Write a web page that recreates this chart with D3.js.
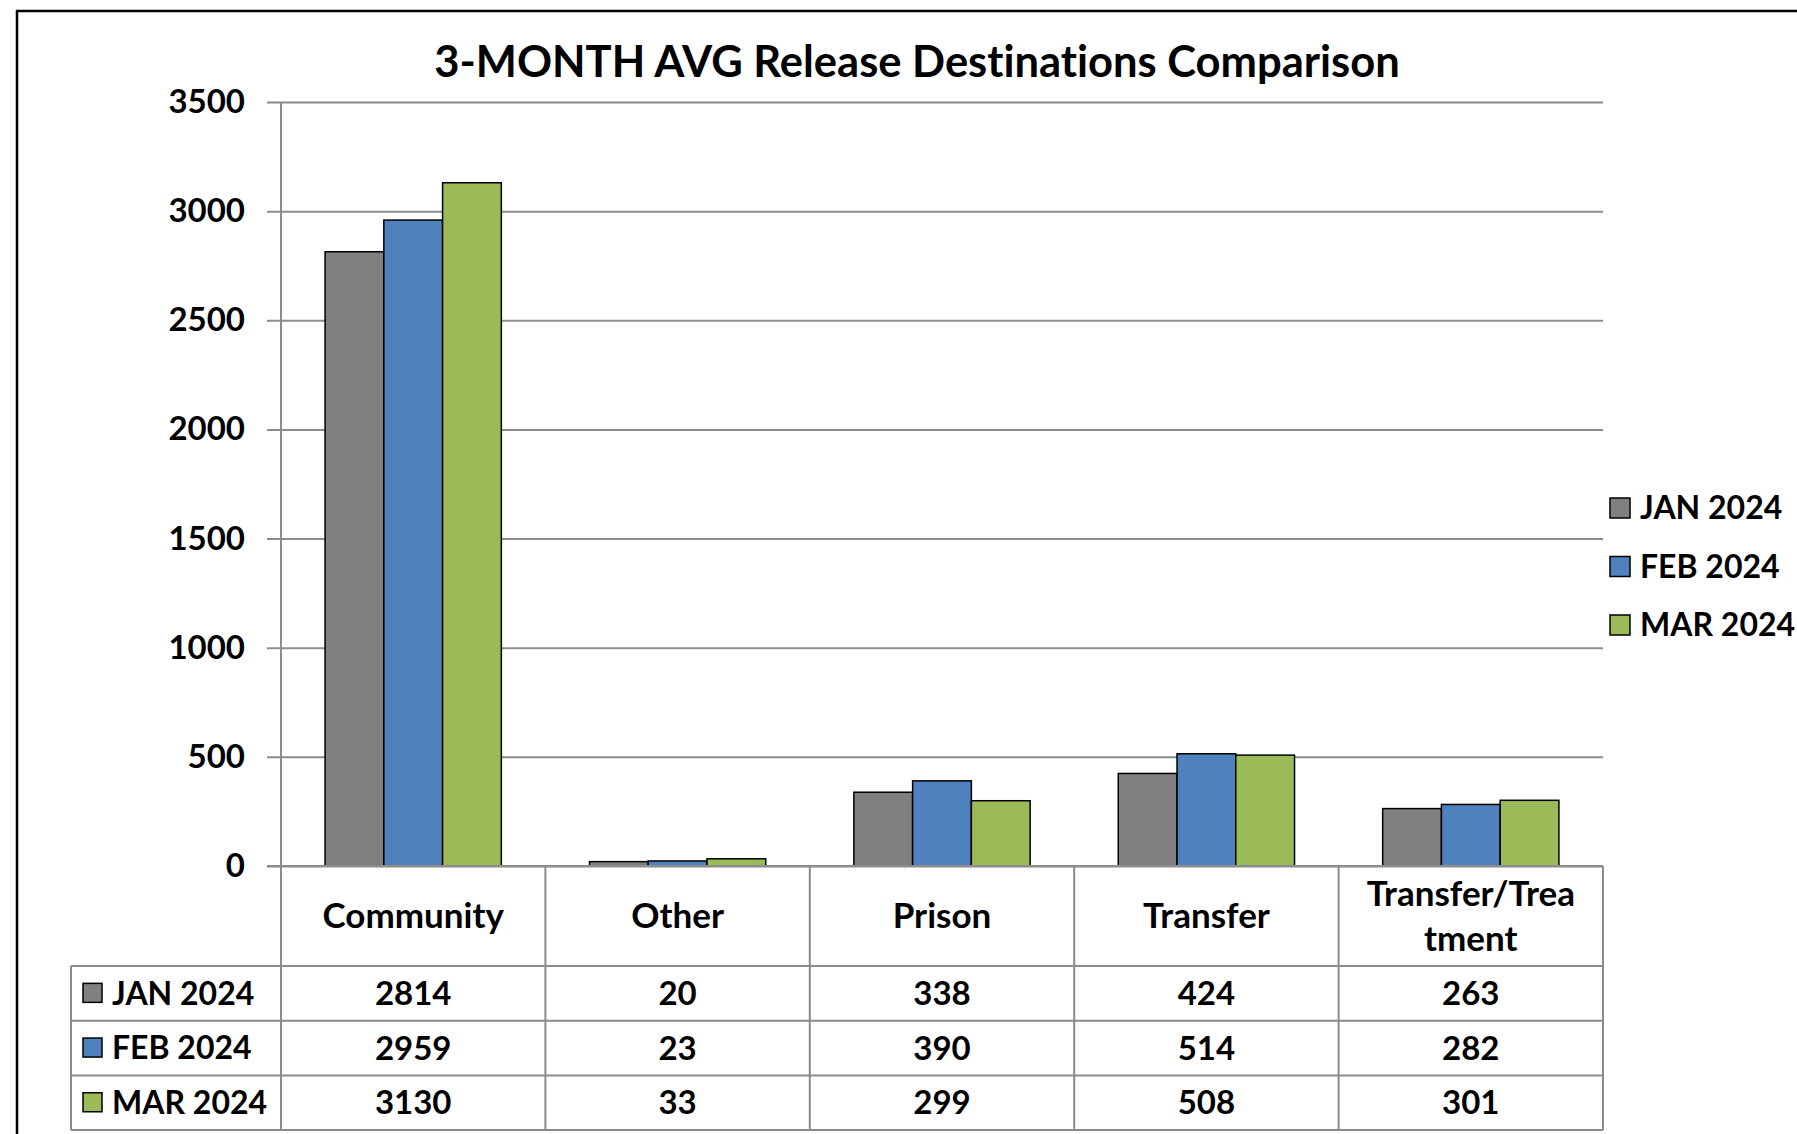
<!DOCTYPE html>
<html>
<head>
<meta charset="utf-8">
<script src="https://cdn.jsdelivr.net/npm/d3@7"></script>
<style>
  body { margin: 0; background: #fff; }
  svg { display: block; font-family: Lato, "Open Sans", sans-serif; font-weight: bold; font-variant-ligatures: none; }
</style>
</head>
<body>
<div id="chart"></div>
<script>
// chart data
var categories = ['Community', 'Other', 'Prison', 'Transfer', 'Transfer/Treatment'];
var headerLines = [['Community'], ['Other'], ['Prison'], ['Transfer'], ['Transfer/Trea', 'tment']];
var seriesNames = ['JAN 2024', 'FEB 2024', 'MAR 2024'];
var janValues = [2814, 20, 338, 424, 263];
var febValues = [2959, 23, 390, 514, 282];
var marValues = [3130, 33, 299, 508, 301];
var yTicks = [0, 500, 1000, 1500, 2000, 2500, 3000, 3500];
var colors = ['#808080', '#4f81bd', '#9bbb59'];

var series = [janValues, febValues, marValues].map(function (vals, i) {
  return { name: seriesNames[i], color: colors[i], values: vals };
});

var width = 1797, height = 1134;
var plot = { left: 281, right: 1603, top: 102, bottom: 866 };
var rowH = 54.7, headerH = 100;
var gridColor = '#8c8c8c';

var svg = d3.select('#chart').append('svg')
  .attr('width', width)
  .attr('height', height);

// outer frame (runs off the right and bottom edge)
svg.append('rect')
  .attr('x', 17).attr('y', 11)
  .attr('width', 1820).attr('height', 1160)
  .attr('fill', 'none')
  .attr('stroke', '#000')
  .attr('stroke-width', 2.5);

svg.append('text')
  .attr('x', 917).attr('y', 77)
  .attr('text-anchor', 'middle')
  .attr('font-size', 43.5)
  .text('3-MONTH AVG Release Destinations Comparison');

var x = d3.scaleBand()
  .domain(categories)
  .range([plot.left, plot.right]);

var xInner = d3.scaleBand()
  .domain(seriesNames)
  .range([0, x.bandwidth()])
  .paddingOuter(0.75)
  .paddingInner(0);

var y = d3.scaleLinear()
  .domain([0, 3500])
  .range([plot.bottom, plot.top]);

// y axis with gridlines
var yAxis = svg.append('g')
  .attr('transform', 'translate(' + plot.left + ',0)')
  .call(d3.axisLeft(y)
    .tickValues(yTicks)
    .tickFormat(d3.format('d'))
    .tickSizeOuter(0)
    .tickPadding(30));

yAxis.select('.domain').remove();
yAxis.selectAll('.tick line')
  .attr('x1', -14)
  .attr('x2', plot.right - plot.left)
  .attr('stroke', gridColor)
  .attr('stroke-width', 2);
yAxis.selectAll('.tick text')
  .attr('font-size', 33)
  .attr('font-family', 'Lato, sans-serif')
  .attr('font-weight', 'bold')
  .attr('fill', '#000');

// vertical axis line
svg.append('line')
  .attr('x1', plot.left).attr('x2', plot.left)
  .attr('y1', plot.top).attr('y2', plot.bottom)
  .attr('stroke', gridColor).attr('stroke-width', 2);

// bars
var groups = svg.append('g').selectAll('g')
  .data(series)
  .join('g')
  .attr('fill', function (d) { return d.color; });

groups.selectAll('rect')
  .data(function (s) {
    return s.values.map(function (v, i) { return { cat: categories[i], value: v, name: s.name }; });
  })
  .join('rect')
  .attr('x', function (d) { return x(d.cat) + xInner(d.name); })
  .attr('width', xInner.bandwidth())
  .attr('y', function (d) { return y(d.value); })
  .attr('height', function (d) { return y(0) - y(d.value); })
  .attr('stroke', '#000')
  .attr('stroke-width', 1.5);

// data table
var table = svg.append('g')
  .attr('stroke', gridColor)
  .attr('stroke-width', 2);

var tableLeft = 71;
var tableBottom = plot.bottom + headerH + rowH * series.length;

// vertical lines at category boundaries
x.domain().concat(['end']).forEach(function (c, i) {
  var xx = i < categories.length ? x(c) : plot.right;
  table.append('line')
    .attr('x1', xx).attr('x2', xx)
    .attr('y1', plot.bottom).attr('y2', tableBottom);
});
table.append('line')
  .attr('x1', tableLeft).attr('x2', tableLeft)
  .attr('y1', plot.bottom + headerH).attr('y2', tableBottom);

// horizontal lines
d3.range(series.length + 1).forEach(function (r) {
  var yy = plot.bottom + headerH + r * rowH;
  table.append('line')
    .attr('x1', tableLeft).attr('x2', plot.right)
    .attr('y1', yy).attr('y2', yy);
});

// zero line on top of everything
svg.append('line')
  .attr('x1', plot.left - 14).attr('x2', plot.right)
  .attr('y1', plot.bottom).attr('y2', plot.bottom)
  .attr('stroke', gridColor).attr('stroke-width', 2);

// header labels
headerLines.forEach(function (lines, i) {
  var cx = x(categories[i]) + x.bandwidth() / 2;
  var cy = plot.bottom + headerH / 2;
  lines.forEach(function (line, j) {
    svg.append('text')
      .attr('x', cx)
      .attr('y', cy + (j - (lines.length - 1) / 2) * 45)
      .attr('dy', '0.35em')
      .attr('text-anchor', 'middle')
      .attr('font-size', 35)
      .text(line);
  });
});

// table rows
series.forEach(function (s, r) {
  var cy = plot.bottom + headerH + r * rowH + rowH / 2;
  svg.append('rect')
    .attr('x', 83).attr('y', cy - 10)
    .attr('width', 19).attr('height', 19)
    .attr('fill', s.color)
    .attr('stroke', '#000').attr('stroke-width', 1.5);
  svg.append('text')
    .attr('x', 112).attr('y', cy)
    .attr('dy', '0.35em')
    .attr('font-size', 32)
    .text(s.name);
  s.values.forEach(function (v, i) {
    svg.append('text')
      .attr('x', x(categories[i]) + x.bandwidth() / 2)
      .attr('y', cy)
      .attr('dy', '0.35em')
      .attr('text-anchor', 'middle')
      .attr('font-size', 33)
      .text(v);
  });
});

// legend
var legend = svg.append('g')
  .attr('transform', 'translate(1610,508)');

var legendItems = legend.selectAll('g')
  .data(series)
  .join('g')
  .attr('transform', function (d, i) { return 'translate(0,' + i * 58.5 + ')'; });

legendItems.append('rect')
  .attr('x', 0).attr('y', -10)
  .attr('width', 20).attr('height', 20)
  .attr('fill', function (d) { return d.color; })
  .attr('stroke', '#000').attr('stroke-width', 1.5);

legendItems.append('text')
  .attr('x', 30)
  .attr('dy', '0.35em')
  .attr('font-size', 32)
  .text(function (d) { return d.name; });
</script>
</body>
</html>
